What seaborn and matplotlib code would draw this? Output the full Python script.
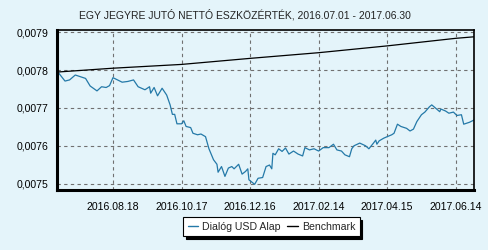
import matplotlib
matplotlib.use("Agg")
import matplotlib.pyplot as plt
import matplotlib.dates as mdates
import matplotlib.ticker as mticker
import seaborn as sns
import pandas as pd

fund_dates = [
    "2016-07-01", "2016-07-07", "2016-07-11", "2016-07-16", "2016-07-20", "2016-07-25",
    "2016-07-29", "2016-08-04", "2016-08-08", "2016-08-12", "2016-08-15", "2016-08-18",
    "2016-08-22", "2016-08-26", "2016-08-31", "2016-09-05", "2016-09-09", "2016-09-15",
    "2016-09-19", "2016-09-20", "2016-09-23", "2016-09-26", "2016-09-30", "2016-10-04",
    "2016-10-07", "2016-10-09", "2016-10-11", "2016-10-13", "2016-10-17", "2016-10-19",
    "2016-10-21", "2016-10-25", "2016-10-27", "2016-10-31", "2016-11-03", "2016-11-07",
    "2016-11-10", "2016-11-14", "2016-11-17", "2016-11-18", "2016-11-21", "2016-11-24",
    "2016-11-27", "2016-11-30", "2016-12-02", "2016-12-06", "2016-12-09", "2016-12-12",
    "2016-12-14", "2016-12-15", "2016-12-20", "2016-12-23", "2016-12-27", "2016-12-30",
    "2017-01-02", "2017-01-04", "2017-01-05", "2017-01-07", "2017-01-10", "2017-01-13",
    "2017-01-16", "2017-01-19", "2017-01-23", "2017-01-27", "2017-01-31", "2017-02-02",
    "2017-02-06", "2017-02-10", "2017-02-14", "2017-02-18", "2017-02-23", "2017-02-27",
    "2017-03-02", "2017-03-06", "2017-03-09", "2017-03-13", "2017-03-15", "2017-03-17",
    "2017-03-22", "2017-03-27", "2017-03-30", "2017-04-03", "2017-04-05", "2017-04-06",
    "2017-04-08", "2017-04-12", "2017-04-15", "2017-04-19", "2017-04-21", "2017-04-24",
    "2017-04-27", "2017-05-02", "2017-05-05", "2017-05-08", "2017-05-11", "2017-05-15",
    "2017-05-18", "2017-05-22", "2017-05-24", "2017-05-26", "2017-05-31", "2017-06-01",
    "2017-06-05", "2017-06-08", "2017-06-12", "2017-06-15", "2017-06-19", "2017-06-21",
    "2017-06-26", "2017-06-30",
]
fund_values = [
    0.007794, 0.007771, 0.007774, 0.007787, 0.007783, 0.007778,
    0.007758, 0.007745, 0.007756, 0.007754, 0.007759, 0.007780,
    0.007774, 0.007768, 0.007770, 0.007774, 0.007756, 0.007748,
    0.007756, 0.007739, 0.007754, 0.007732, 0.007752, 0.007734,
    0.007708, 0.007683, 0.007683, 0.007658, 0.007658, 0.007666,
    0.007651, 0.007648, 0.007633, 0.007629, 0.007631, 0.007624,
    0.007592, 0.007563, 0.007551, 0.007530, 0.007545, 0.007519,
    0.007541, 0.007545, 0.007539, 0.007551, 0.007525, 0.007532,
    0.007539, 0.007510, 0.007498, 0.007514, 0.007516, 0.007545,
    0.007549, 0.007539, 0.007580, 0.007576, 0.007592, 0.007585,
    0.007594, 0.007578, 0.007586, 0.007578, 0.007573, 0.007595,
    0.007589, 0.007592, 0.007586, 0.007595, 0.007595, 0.007604,
    0.007589, 0.007586, 0.007576, 0.007571, 0.007592, 0.007600,
    0.007607, 0.007600, 0.007592, 0.007607, 0.007615, 0.007604,
    0.007613, 0.007620, 0.007624, 0.007629, 0.007633, 0.007657,
    0.007651, 0.007646, 0.007639, 0.007644, 0.007664, 0.007682,
    0.007689, 0.007703, 0.007708, 0.007703, 0.007690, 0.007697,
    0.007692, 0.007686, 0.007689, 0.007680, 0.007682, 0.007657,
    0.007662, 0.007668,
]

bench_dates = ["2016-07-01", "2016-08-18", "2016-10-17", "2016-12-16",
               "2017-02-14", "2017-04-15", "2017-06-14", "2017-06-30"]
bench_values = [0.007795, 0.007805, 0.007815, 0.007831,
                0.007846, 0.007864, 0.007884, 0.007888]

series_names = ["Dialóg USD Alap", "Benchmark"]
title_text = "EGY JEGYRE JUTÓ NETTÓ ESZKÖZÉRTÉK, 2016.07.01 - 2017.06.30"
y_ticks = [0.0075, 0.0076, 0.0077, 0.0078, 0.0079]

df = pd.concat([
    pd.DataFrame({"date": pd.to_datetime(fund_dates), "value": fund_values, "series": series_names[0]}),
    pd.DataFrame({"date": pd.to_datetime(bench_dates), "value": bench_values, "series": series_names[1]}),
], ignore_index=True)

bg = "#E4F4FA"
fund_color = "#2479a8"
sns.set_theme(style="white")
plt.rcParams["font.family"] = ["Liberation Sans", "DejaVu Sans"]

fig = plt.figure(figsize=(4.89, 2.50), dpi=100, facecolor=bg)
ax = fig.add_axes([57 / 489, 1 - 190 / 250, (474 - 57) / 489, 160 / 250])
ax.set_facecolor(bg)

sns.lineplot(data=df, x="date", y="value", hue="series",
             palette={series_names[0]: fund_color, series_names[1]: "black"},
             linewidth=0.9, ax=ax, legend=False, estimator=None, sort=True)

ax.set_xlim(pd.Timestamp("2016-06-30"), pd.Timestamp("2017-06-30"))
ax.set_ylim(0.007483, 0.007906)

major_x = pd.date_range("2016-08-18", periods=6, freq="60D")
minor_x = pd.date_range("2016-07-04", "2017-06-29", freq="15D")
ax.xaxis.set_major_locator(mticker.FixedLocator(mdates.date2num(major_x)))
ax.xaxis.set_minor_locator(mticker.FixedLocator(mdates.date2num(minor_x)))
ax.xaxis.set_major_formatter(mdates.DateFormatter("%Y.%m.%d"))
ax.yaxis.set_major_locator(mticker.FixedLocator(y_ticks))
ax.yaxis.set_minor_locator(mticker.MultipleLocator(0.00002))
ax.yaxis.set_major_formatter(mticker.FuncFormatter(lambda v, p: f"{v:.4f}".replace(".", ",")))

ax.tick_params(axis="both", which="major", direction="out", length=4, width=0.8,
               colors="black", labelsize=7.6, pad=2)
ax.tick_params(axis="both", which="minor", direction="out", length=2.5, width=0.8, colors="black")
ax.tick_params(axis="x", which="major", pad=5)
ax.set_xlabel("")
ax.set_ylabel("")

ax.grid(True, which="major", color="#707070", linestyle=(0, (3, 3)), linewidth=0.8)

for side in ["left", "bottom"]:
    ax.spines[side].set_linewidth(2.2)
    ax.spines[side].set_color("black")
for side in ["top", "right"]:
    ax.spines[side].set_linewidth(1.2)
    ax.spines[side].set_color("black")

fig.text(0.5, 1 - 15 / 250, title_text, ha="center", va="center", fontsize=7.5, color="#222222")

handles = [plt.Line2D([], [], color=fund_color, lw=1.0), plt.Line2D([], [], color="black", lw=1.0)]
leg = fig.legend(handles, series_names, loc="center", bbox_to_anchor=(271.5 / 489, 1 - 226.5 / 250),
                 ncol=2, fontsize=7.6, frameon=True, fancybox=False,
                 shadow={"color": "black", "alpha": 1.0},
                 handlelength=1.0, handletextpad=0.4, columnspacing=0.6,
                 borderpad=0.4, borderaxespad=0)
leg.get_frame().set_edgecolor("black")
leg.get_frame().set_linewidth(0.8)
leg.get_frame().set_facecolor("white")

fig.savefig("out.png", dpi=100, facecolor=bg)
